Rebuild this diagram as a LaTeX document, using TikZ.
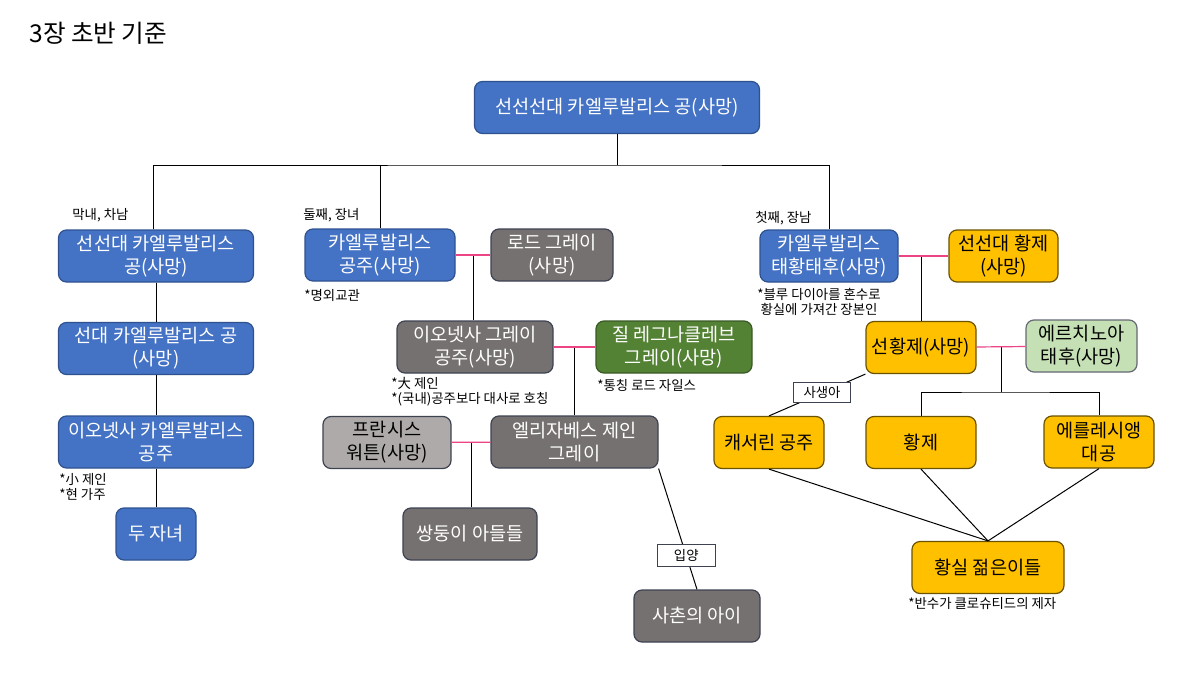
\documentclass[tikz,border=0pt]{standalone}
\usepackage{fontspec}
\setmainfont{Noto Sans CJK KR}
\usepackage{xcolor}
\usepackage{tikz}

\definecolor{kblue}{HTML}{4472C4}
\definecolor{kblueline}{HTML}{2F528F}
\definecolor{kgrey}{HTML}{767171}
\definecolor{klightgrey}{HTML}{AEAAAA}
\definecolor{kgreyline}{HTML}{3E4352}
\definecolor{kgreen}{HTML}{548235}
\definecolor{kgreenline}{HTML}{3A5A25}
\definecolor{kpale}{HTML}{C5E0B4}
\definecolor{kgold}{HTML}{FFC000}
\definecolor{kgoldline}{HTML}{6B5300}
\definecolor{kpink}{HTML}{EC4485}

\tikzset{
	box/.style={rounded corners=4pt, line width=0.6pt, align=center, inner sep=0pt,
		minimum height=26pt, font=\fontsize{9.3}{11.5}\selectfont},
	bluebox/.style={box, fill=kblue, draw=kblueline, text=white},
	greybox/.style={box, fill=kgrey, draw=kgreyline, text=white},
	palegreybox/.style={box, fill=klightgrey, draw=kgreyline, text=black},
	greenbox/.style={box, fill=kgreen, draw=kgreenline, text=white},
	palegreenbox/.style={box, fill=kpale, draw=kgreyline!80, text=black},
	goldbox/.style={box, fill=kgold, draw=kgoldline, text=black},
	note/.style={inner sep=0pt, font=\fontsize{6.7}{7.6}\selectfont},
	tag/.style={draw=kgreyline, fill=white, line width=0.5pt, inner sep=0pt,
		font=\fontsize{6.7}{7.6}\selectfont},
	wed/.style={draw=kpink, line width=0.6pt},
}

\begin{document}
\begin{tikzpicture}[x=0.5pt,y=-0.5pt]
		\fill[white] (0,0) rectangle (1200,675);
		\useasboundingbox (0,0) rectangle (1200,675);
		\node[anchor=west, inner sep=0pt, font=\fontsize{12.3}{14}\selectfont] (title) at (29,33) {3장 초반 기준};
		%
		\node[bluebox, minimum width=142.5pt] (R) at (617,107.5) {선선선대 카엘루발리스 공(사망)};
		% left branch
		\node[bluebox, minimum width=97.5pt] (A) at (156,256) {선선대 카엘루발리스\\공(사망)};
		\node[bluebox, minimum width=97.5pt] (A') at (156,348.5) {선대 카엘루발리스 공\\(사망)};
		\node[bluebox, minimum width=97.5pt] (A'') at (156,442) {이오넷사 카엘루발리스\\공주};
		\node[bluebox, minimum width=40pt] (A''') at (156,534) {두 자녀};
		% middle branch
		\node[bluebox, minimum width=75pt] (B) at (380,255) {카엘루발리스\\공주(사망)};
		\node[greybox, minimum width=61pt] (G) at (552,255) {로드 그레이\\(사망)};
		\node[greybox, minimum width=78pt] (I) at (475,347) {이오넷사 그레이\\공주(사망)};
		\node[greenbox, minimum width=78pt] (J) at (674,347) {질 레그나클레브\\그레이(사망)};
		\node[greybox, minimum width=83.5pt] (E) at (574.5,442) {엘리자베스 제인\\그레이};
		\node[palegreybox, minimum width=64pt] (F) at (387,442.5) {프란시스\\워튼(사망)};
		\node[greybox, minimum width=67pt] (W) at (470,534) {쌍둥이 아들들};
		\node[greybox, minimum width=63pt] (X) at (697,616) {사촌의 아이};
		% right branch
		\node[bluebox, minimum width=69pt] (C) at (829,256) {카엘루발리스\\태황태후(사망)};
		\node[goldbox, minimum width=54.5pt] (K) at (1003.5,256) {선선대 황제\\(사망)};
		\node[goldbox, minimum width=55pt] (P) at (921,347.5) {선황제(사망)};
		\node[palegreenbox, minimum width=55.5pt] (Q) at (1081.5,346) {에르치노아\\태후(사망)};
		\node[goldbox, minimum width=55pt] (S) at (769,442.5) {캐서린 공주};
		\node[goldbox, minimum width=55pt] (M) at (921,442.5) {황제};
		\node[goldbox, minimum width=55pt] (D) at (1099,442) {에를레시앵\\대공};
		\node[goldbox, minimum width=76pt] (Y) at (988,567.5) {황실 젊은이들};
		%
		\node[note, anchor=west] (n1) at (72,215) {막내, 차남};
		\node[note, anchor=west] (n2) at (303,215) {둘째, 장녀};
		\node[note, anchor=west] (n3) at (755,218) {첫째, 장남};
		\node[note, anchor=west] (n4) at (304,295) {*명외교관};
		\node[note, anchor=north west, align=left] (n5) at (59,473) {*小 제인\\*현 가주};
		\node[note, anchor=north west, align=left] (n6) at (391,377) {*大 제인\\*(국내)공주보다 대사로 호칭};
		\node[note, anchor=west] (n7) at (597,385) {*통칭 로드 자일스};
		\node[note, anchor=north, align=center] (n8) at (819,288) {*블루 다이아를 혼수로\\황실에 가져간 장본인};
		\node[note, anchor=west] (n9) at (908,604) {*반수가 클로슈티드의 제자};
		%
		\coordinate (h) at (617,165);
		\coordinate (h') at (1001,392);
		\path (B.east) -- (G.west) coordinate[midway] (m1);
		\path (I.east) -- (J.west) coordinate[midway] (m2);
		\path (F.east) -- (E.west) coordinate[midway] (m3);
		\path (C.east) -- (K.west) coordinate[midway] (m4);
		\path (P.east) -- (Q.west) coordinate[midway] (m5);
		%
		\begin{scope}[line width=0.5pt]
		\draw (R) -- (h);
		\draw ([xshift=-1.5pt]A.north) |- (h) -| (C.north);
		\draw (B.north) -- (B.north |- h);
		\path[draw]
		(A) edge (A')
		(A') edge (A'')
		(A'') edge (A''')
		(m1) edge (m1 |- I.north)
		(m2) edge (m2 |- E.north)
		(m3) edge (m3 |- W.north)
		(P.north) edge (P.north |- m4)
		(m5) edge (h')
		(S.south) edge (Y.north)
		(M.south) edge (Y.north)
		(D.south) edge (Y.north);
		\draw (M.north) |- (h') -| (D.north);
		\draw (E.south east) -- (X.north) node[tag, pos=0.72, minimum width=29pt, minimum height=11pt] (ad) {입양};
		\draw (P.south west) -- (S.north) node[tag, pos=0.45, minimum width=28.5pt, minimum height=10pt] (il) {사생아};
		\end{scope}
		%
		\path[wed]
		(B) edge (G)
		(I) edge (J)
		(F) edge (E)
		(C) edge (K)
		(P) edge (Q);
	\end{tikzpicture}
\end{document}
